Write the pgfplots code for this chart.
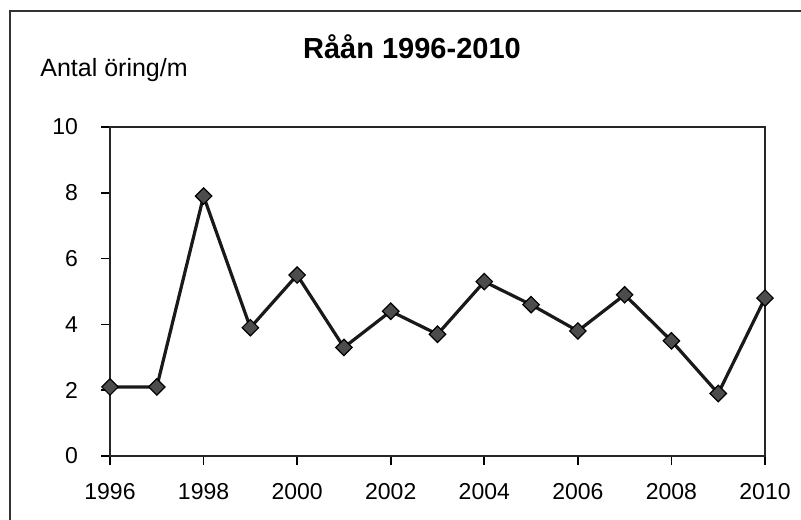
\documentclass[border=0pt]{standalone}
\usepackage{fontspec}
\setmainfont{Liberation Sans}
\usepackage{pgfplots}
\pgfplotsset{compat=1.18}

\begin{document}
\begin{tikzpicture}
% whole picture: 801x519 px at 0.5pt per px
\path[use as bounding box] (0,0) rectangle (400.5pt,259.5pt);
% outer chart frame (top and left edges visible)
\draw[line width=1pt, black!80] (5pt,-2pt) -- (5pt,254pt) -- (403pt,254pt);
\node[font=\bfseries\fontsize{14.5}{16}\selectfont] at (206pt,236pt) {Råån 1996-2010};
\node[anchor=west, font=\fontsize{12.5}{14}\selectfont, inner sep=0pt] at (20pt,224.5pt) {Antal öring/m};
\begin{axis}[
    at={(55pt,31.5pt)}, anchor=south west,
    width=327.5pt, height=164.5pt,
    scale only axis,
    xmin=1996, xmax=2010,
    ymin=0, ymax=10,
    xtick={1996,1998,...,2010},
    ytick={0,2,...,10},
    tick align=outside,
    major tick length=4.5pt,
    tick style={line width=0.8pt, black},
    axis line style={line width=1pt, black!85},
    xtick pos=bottom, ytick pos=left,
    /pgf/number format/assume math mode=true,
    /pgf/number format/1000 sep={},
    ticklabel style={font=\fontsize{11.5}{13}\selectfont},
    xticklabel style={yshift=-5.5pt},
    yticklabel style={xshift=-8pt},
    clip=false,
]
\addplot[line width=1.6pt, black!90, mark=square*, mark size=2.9pt,
    mark options={rotate=45, fill=black!70, draw=black, line width=0.6pt}]
coordinates {
    (1996,2.1) (1997,2.1) (1998,7.9) (1999,3.9) (2000,5.5)
    (2001,3.3) (2002,4.4) (2003,3.7) (2004,5.3) (2005,4.6)
    (2006,3.8) (2007,4.9) (2008,3.5) (2009,1.9) (2010,4.8)
};
\end{axis}
\end{tikzpicture}
\end{document}
